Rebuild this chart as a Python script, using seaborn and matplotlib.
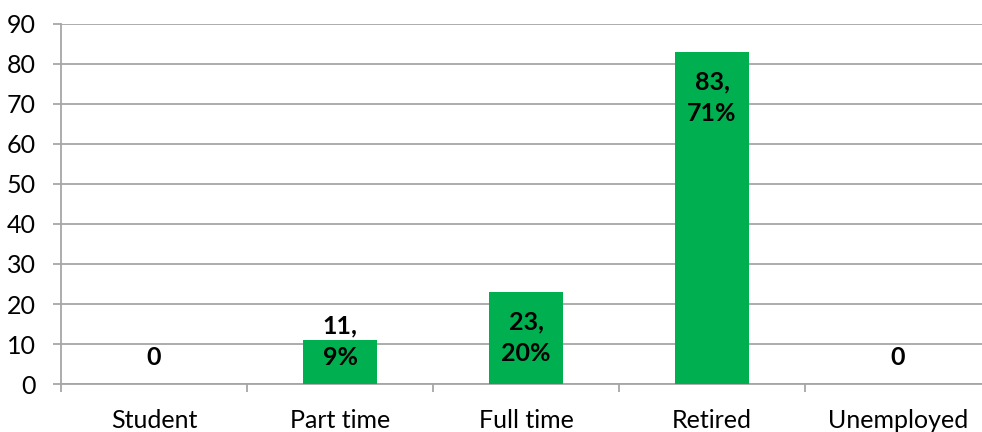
import matplotlib
matplotlib.use("Agg")
import matplotlib.pyplot as plt
import seaborn as sns
import pandas as pd

# values
categories = ["Student", "Part time", "Full time", "Retired", "Unemployed"]
counts = [0, 11, 23, 83, 0]
labels = ["0", "11,\n9%", "23,\n20%", "83,\n71%", "0"]

sns.set_theme(style="white")
plt.rcParams["font.family"] = ["Lato", "DejaVu Sans"]

df = pd.DataFrame({"category": categories, "count": counts})

fig = plt.figure(figsize=(9.82, 4.32), dpi=100)
# the plot area runs a little past the right edge of the picture, as in the reference
ax = fig.add_axes([61 / 982, 1 - 384 / 432, 930 / 982, (384 - 24) / 432])

sns.barplot(data=df, x="category", y="count", color="#00B050", saturation=1,
            width=0.4, ax=ax, zorder=3, linewidth=0)

grid_col = "#A6A6A6"
fs = 18
ax.set_ylim(0, 90)
ax.set_xlim(-0.5, len(categories) - 0.5)
ax.set_yticks(range(0, 91, 10))
ax.yaxis.grid(True, color=grid_col, linewidth=1.3, zorder=0)
ax.set_axisbelow(True)
ax.set_xlabel("")
ax.set_ylabel("")

for side in ["top", "right"]:
    ax.spines[side].set_visible(False)
for side in ["left", "bottom"]:
    ax.spines[side].set_color(grid_col)
    ax.spines[side].set_linewidth(1.3)

# category boundary ticks
ax.set_xticks([i - 0.5 for i in range(len(categories) + 1)], minor=True)
ax.tick_params(axis="x", which="minor", length=6, width=1.3, color=grid_col, bottom=True)
ax.tick_params(axis="x", which="major", length=0, pad=18, labelsize=fs, colors="black")
ax.tick_params(axis="y", length=6, width=1.3, color=grid_col, pad=12,
               labelsize=fs, colors="black", left=True)

# data labels, Excel "inside end" style
for i, (v, lab) in enumerate(zip(counts, labels)):
    if v >= 20:
        ax.annotate(lab, xy=(i, v), xytext=(0, -18), textcoords="offset pixels",
                    ha="center", va="top", fontsize=fs, fontweight="bold",
                    linespacing=1.45, color="black", zorder=4)
    else:
        ax.annotate(lab, xy=(i, 0), xytext=(0, 15), textcoords="offset pixels",
                    ha="center", va="bottom", fontsize=fs, fontweight="bold",
                    linespacing=1.45, color="black", zorder=4)

fig.savefig("out.png", dpi=100)
